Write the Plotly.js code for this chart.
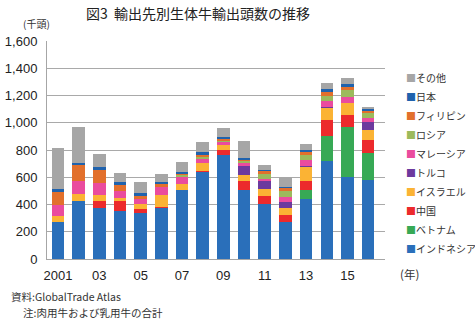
<!DOCTYPE html>
<html>
<head>
<meta charset="utf-8">
<script src="https://cdn.plot.ly/plotly-3.0.1.min.js"></script>
<style>html,body{margin:0;padding:0;background:#fff;}#chart{width:475px;height:322px;}</style>
</head>
<body>
<div id="chart"></div>
<script>
// ---- data (thousand head) ----
const years = [2001,2002,2003,2004,2005,2006,2007,2008,2009,2010,2011,2012,2013,2014,2015,2016];
const tickYears = [2001,2003,2005,2007,2009,2011,2013,2015];
const tickLabels = ["2001","03","05","07","09","11","13","15"];

const indonesia   = [275,425,378,352,338,372,508,636,765,508,406,272,440,720,604,583];
const vietnam     = [0,0,0,0,0,0,0,0,0,0,0,0,68,183,367,195];
const china       = [0,0,47,74,27,12,0,10,35,61,54,53,66,117,86,95];
const israel      = [40,50,45,24,38,86,45,56,37,44,53,49,102,88,85,73];
const turkey      = [0,0,0,0,0,0,0,0,0,66,60,44,10,5,3,62];
const malaysia    = [80,97,85,48,36,61,52,30,24,25,14,39,42,44,46,30];
const russia      = [0,0,0,0,0,0,8,14,6,12,39,44,37,40,49,35];
const philippines = [100,115,100,46,25,17,12,17,12,13,17,20,20,30,25,16];
const japan       = [18,15,20,18,22,20,15,20,15,12,12,10,12,18,17,10];
const others      = [300,265,93,66,77,55,70,78,68,127,35,73,45,44,50,14];

// stacking order bottom -> top
const seriesNames  = ["インドネシア","ベトナム","中国","イスラエル","トルコ","マレーシア","ロシア","フィリピン","日本","その他"];
const seriesValues = [indonesia,vietnam,china,israel,turkey,malaysia,russia,philippines,japan,others];
const seriesColors = ["#2a6fba","#37a955","#ec2a2c","#fbb334","#6c3a9e","#ea4c9e","#9cba5c","#e2702c","#1f62ad","#a6a6a6"];

// ---- layout helpers (pixel -> paper) ----
const W = 475, H = 322;
const M = {l:47, r:90, t:41, b:63};
const pw = W - M.l - M.r, ph = H - M.t - M.b;
const px = x => (x - M.l) / pw;
const py = y => (H - M.b - y) / ph;

const JP = "Noto Sans CJK JP, Liberation Sans, sans-serif";
const LAT = "Liberation Sans, Arial, sans-serif";

const traces = seriesNames.map((n, i) => ({
  type: "bar",
  name: n,
  x: years,
  y: seriesValues[i],
  width: 0.6,
  marker: {color: seriesColors[i], line: {width: 0}},
  hoverinfo: "skip"
}));

const annotations = [];
// legend (top -> bottom: その他 ... インドネシア)
for (let k = 0; k < seriesNames.length; k++) {
  const i = seriesNames.length - 1 - k;
  annotations.push({
    xref: "paper", yref: "paper",
    x: px(404), y: py(77 + k * 19.05),
    xanchor: "left", yanchor: "middle",
    showarrow: false,
    text: '<span style="color:' + seriesColors[i] + '">■</span>' + seriesNames[i],
    font: {family: JP, size: 10, color: "#333"}
  });
}
annotations.push({xref:"paper", yref:"paper", x:px(36), y:py(23), xanchor:"center", yanchor:"middle",
  showarrow:false, text:"(千頭)", font:{family:JP, size:10, color:"#333"}});
annotations.push({xref:"paper", yref:"paper", x:px(409), y:py(274), xanchor:"center", yanchor:"middle",
  showarrow:false, text:"(年)", font:{family:JP, size:11.5, color:"#333"}});
annotations.push({xref:"paper", yref:"paper", x:px(9), y:py(296), xanchor:"left", yanchor:"middle",
  showarrow:false, text:"資料:GlobalTrade Atlas", font:{family:JP, size:10.5, color:"#333"}});
annotations.push({xref:"paper", yref:"paper", x:px(21), y:py(312), xanchor:"left", yanchor:"middle",
  showarrow:false, text:"注:肉用牛および乳用牛の合計", font:{family:JP, size:10.5, color:"#333"}});

const layout = {
  width: W, height: H,
  margin: M,
  paper_bgcolor: "#fff", plot_bgcolor: "#fff",
  barmode: "stack",
  showlegend: false,
  title: {
    text: "図3  輸出先別生体牛輸出頭数の推移",
    xref: "container", yref: "container",
    x: 198 / W, y: 1 - 14 / H, xanchor: "center", yanchor: "middle",
    font: {family: JP, size: 14, color: "#222"}
  },
  xaxis: {
    range: [2000.47, 2016.82],
    tickmode: "array", tickvals: tickYears, ticktext: tickLabels,
    ticks: "", showgrid: false, zeroline: false,
    showline: true, linecolor: "#a6a6a6", linewidth: 1,
    tickfont: {family: LAT, size: 13, color: "#222"},
    ticklabelstandoff: 4
  },
  yaxis: {
    range: [0, 1600], dtick: 200, tickformat: ",d",
    ticks: "", showgrid: true, gridcolor: "#a9a9a9", gridwidth: 1,
    zeroline: false, showline: true, linecolor: "#a6a6a6", linewidth: 1,
    tickfont: {family: LAT, size: 13, color: "#222"},
    ticklabelstandoff: 6
  },
  annotations: annotations
};

Plotly.newPlot("chart", traces, layout, {displayModeBar: false, staticPlot: true});
</script>
</body>
</html>
